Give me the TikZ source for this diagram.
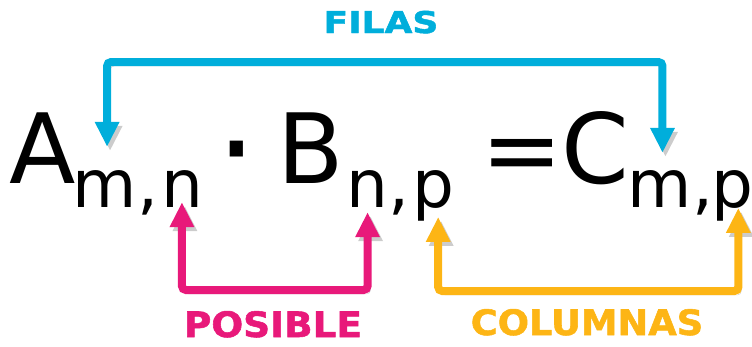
\documentclass[tikz,border=0pt]{standalone}
\usepackage{fontspec}
\setmainfont{DejaVu Sans}
\usetikzlibrary{arrows.meta,positioning}
\definecolor{cFilas}{HTML}{00AEDB}
\definecolor{cPosible}{HTML}{E8197A}
\definecolor{cColumnas}{HTML}{FDB515}
\tikzset{
  big/.style={inner sep=0pt, anchor=base west, font=\fontsize{97}{100}\selectfont},
  sub/.style={inner sep=0pt, anchor=base west, font=\fontsize{66}{70}\selectfont},
  link/.style={draw=#1, line width=8pt, rounded corners=4pt,
    arrows={Triangle[length=25pt,width=23pt]-Triangle[length=25pt,width=23pt]},
    preaction={draw=black!20, transform canvas={xshift=3pt,yshift=-4pt}}},
  tag/.style={text=#1, inner sep=0pt, anchor=base, transform shape,
    font=\bfseries\fontsize{35}{37}\selectfont\addfontfeature{FakeBold=1.5}},
}

\begin{document}
\begin{tikzpicture}[x=1pt,y=-1pt]
  \useasboundingbox (0,0) rectangle (752,346);
  % A_{m,n} . B_{n,p} = C_{m,p}
  \node[big] (A) at (9,183) {A};
  \node[sub] (Am) at ([xshift=-3pt,yshift=-24pt]A.base east) {m};
  \node[sub] (Ac) at (Am.base east) {,};
  \node[sub] (An) at ([xshift=2pt]Ac.base east) {n};
  \node[big, font=\fontsize{128}{130}\selectfont] (dot) at (216,193) {·};
  \node[big] (B) at (277.5,183) {B};
  \node[sub] (Bn) at ([xshift=2pt,yshift=-24pt]B.base east) {n};
  \node[sub] (Bc) at (Bn.base east) {,};
  \node[sub] (Bp) at ([xshift=2pt]Bc.base east) {p};
  \node[big] (eq) at (481.5,183) {=};
  \node[big] (C) at (561,183) {C};
  \node[sub] (Cm) at ([xshift=-2pt,yshift=-24pt]C.base east) {m};
  \node[sub] (Cc) at (Cm.base east) {,};
  \node[sub] (Cp) at ([xshift=-2pt]Cc.base east) {p};
  % labels
  \node[tag=cFilas, xscale=1.2, font=\bfseries\fontsize{30}{32}\selectfont\addfontfeature{FakeBold=1.5}] (filas) at (381,33) {FILAS};
  \node[tag=cPosible, xscale=1.07] (posible) at (273,337) {POSIBLE};
  \node[tag=cColumnas, xscale=1.05] (columnas) at (587,335) {COLUMNAS};
  \coordinate (filasbar) at (381,62);
  \coordinate (posbar) at (273,290);
  \coordinate (colbar) at (587,291);
  % connectors
  \draw[link=cFilas] ([xshift=2pt,yshift=23pt]Am.north) |- (filasbar) -| ([xshift=3pt,yshift=17pt]Cm.north);
  \draw[link=cPosible] ([yshift=5pt]An.south) |- (posbar) -| ([yshift=-5pt]Bn.south);
  \draw[link=cColumnas] ([xshift=5pt,yshift=4pt]Bp.south) |- (colbar) -| ([xshift=6pt,yshift=13pt]Cp.south);
\end{tikzpicture}
\end{document}
